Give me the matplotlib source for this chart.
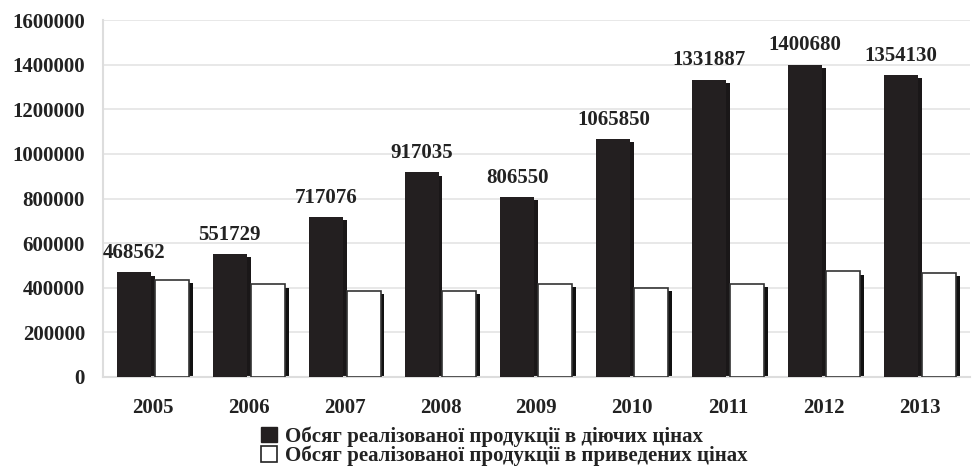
import matplotlib.pyplot as plt
from matplotlib.patches import Patch
import numpy as np

years = ["2005", "2006", "2007", "2008", "2009", "2010", "2011", "2012", "2013"]
current_prices = [468562, 551729, 717076, 917035, 806550, 1065850, 1331887, 1400680, 1354130]
adjusted_prices = [435000, 415000, 384000, 384000, 418000, 400000, 418000, 473000, 465000]
labels = ["Обсяг реалізованої продукції в діючих цінах",
          "Обсяг реалізованої продукції в приведених цінах"]

plt.rcParams['font.family'] = ['Liberation Serif', 'DejaVu Serif']
plt.rcParams['font.weight'] = 'bold'
txt = '#222222'
dark = '#231f20'

fig = plt.figure(figsize=(9.74, 4.66), dpi=100)
ax = fig.add_axes([0.1057, 0.191, 0.89, 0.766])

x = np.arange(len(years))
w = 0.355
gap = 0.04
dx, dy = 0.04, 14000

# shadows first, then bars on top
ax.bar(x - w/2 - gap/2 + dx, np.array(current_prices) - dy, w, color='#1a1718', zorder=2)
ax.bar(x + w/2 + gap/2 + dx, np.array(adjusted_prices) - dy, w, color='#111111', zorder=2)
ax.bar(x - w/2 - gap/2, current_prices, w, color=dark, zorder=3)
ax.bar(x + w/2 + gap/2, adjusted_prices, w, color='white', edgecolor='#333333', linewidth=1.2, zorder=3)

for xi, v in zip(x, current_prices):
    ax.text(xi - w/2 - gap/2, v + 42000, str(v), ha='center', va='bottom',
            fontsize=15, fontweight='bold', color=txt)

ax.set_ylim(0, 1600000)
ax.set_xlim(-0.52, 8.52)
ax.set_yticks(range(0, 1600001, 200000))
ax.set_yticklabels([str(v) for v in range(0, 1600001, 200000)])
ax.set_xticks(x)
ax.set_xticklabels(years)
ax.tick_params(axis='y', length=0, pad=13, labelsize=15, labelcolor=txt)
ax.tick_params(axis='x', length=0, pad=15, labelsize=15, labelcolor=txt)
ax.grid(axis='y', color='#e4e4e4', linewidth=1.2, zorder=0)
ax.set_axisbelow(True)
for s in ['top', 'right']:
    ax.spines[s].set_visible(False)
ax.spines['left'].set_color('#dddddd')
ax.spines['left'].set_linewidth(1.5)
ax.spines['bottom'].set_color('#dddddd')
ax.spines['bottom'].set_linewidth(1.5)

handles = [Patch(facecolor=dark, edgecolor=dark),
           Patch(facecolor='white', edgecolor='#222222', linewidth=1.2)]
fig.legend(handles, labels, loc='upper left', bbox_to_anchor=(0.268, 0.085),
           frameon=False, fontsize=15, handlelength=0.75, handleheight=0.75,
           handletextpad=0.4, labelspacing=-0.05, borderpad=0, borderaxespad=0,
           labelcolor=txt)

fig.savefig('out.png', dpi=100)
